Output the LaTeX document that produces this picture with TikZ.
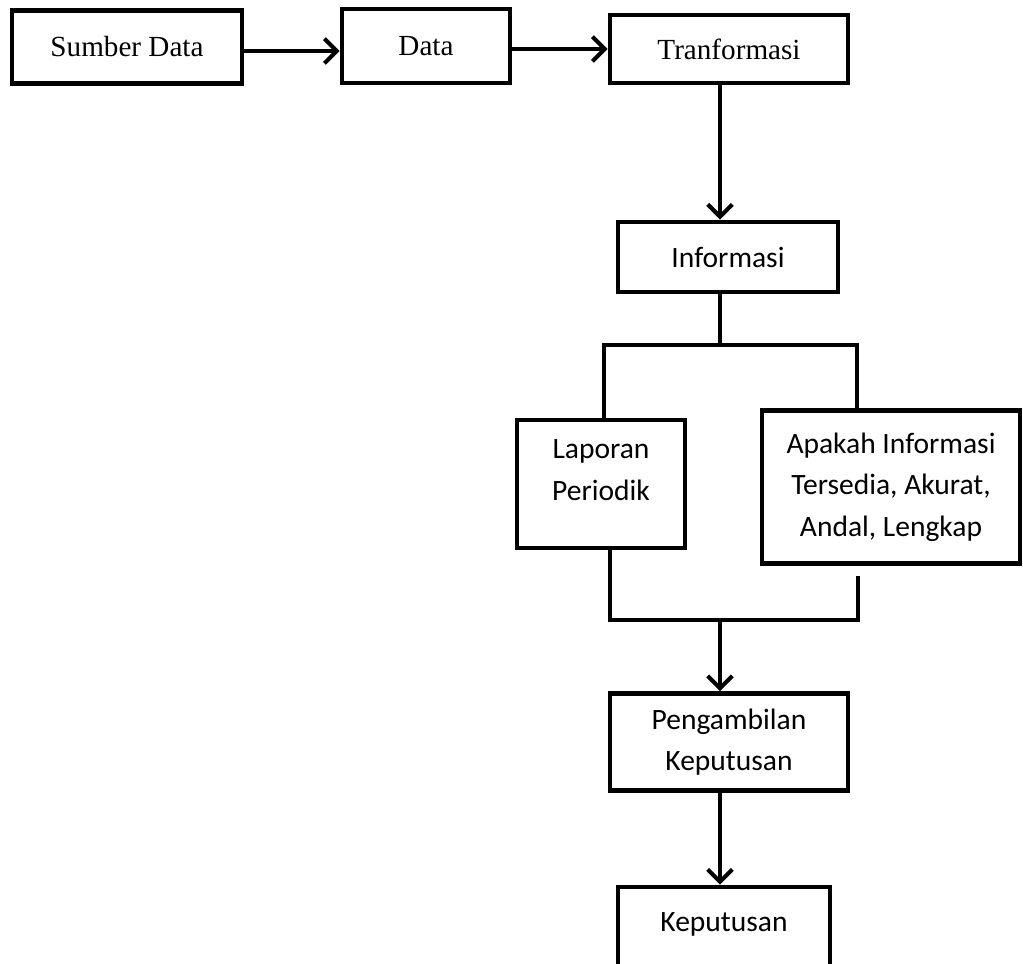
\documentclass[tikz,border=0pt]{standalone}
\usepackage{fontspec}
\setmainfont{Liberation Serif}
\newfontfamily\calibri{Carlito}
\usepackage{tikz}
\usetikzlibrary{arrows.meta,calc,positioning}

\begin{document}
\begin{tikzpicture}[x=0.02cm,y=-0.02cm,
  box/.style={rectangle,draw,line width=2.6pt,align=center,inner sep=0pt},
  serifbox/.style={box,font=\fontsize{16.6}{20}\selectfont},
  sansbox/.style={box,font=\calibri\fontsize{16.8}{23.6}\selectfont},
  link/.style={line width=2.4pt},
  arrow/.style={link,-{Straight Barb[length=7pt,width=14pt]}}]

\useasboundingbox (0,0) rectangle (1023,963);
\clip (0,0) rectangle (1023,963);

\node[serifbox,minimum width=230*0.02cm,minimum height=73*0.02cm] (sumber) at (127,47) {Sumber Data};
\node[serifbox,minimum width=168*0.02cm,minimum height=74*0.02cm] (data) at (426,46) {Data};
\node[serifbox,minimum width=238*0.02cm,minimum height=68*0.02cm] (trans) at (729,49) {Tranformasi};
\node[sansbox,minimum width=220*0.02cm,minimum height=70*0.02cm] (info) at (728,257) {Informasi};
\node[sansbox,minimum width=168*0.02cm,minimum height=128*0.02cm,text depth=16pt] (laporan) at (601,484) {Laporan\\Periodik};
\node[sansbox,minimum width=258*0.02cm,minimum height=153*0.02cm] (cek) at (891,487) {Apakah Informasi\\Tersedia, Akurat,\\Andal, Lengkap};
\node[sansbox,minimum width=238*0.02cm,minimum height=97*0.02cm] (ambil) at (729,742) {Pengambilan\\Keputusan};
\node[sansbox,minimum width=212*0.02cm,minimum height=90*0.02cm,text depth=11pt] (kep) at (724,932) {Keputusan};

% branch and join points
\coordinate (spine) at (720,0);
\coordinate (forkL) at (604,345);
\coordinate (forkR) at (857,345);
\coordinate (joinL) at (610,620);
\coordinate (joinR) at (858,620);

\draw[arrow] ([yshift=-4*0.02cm]sumber.east) -- ([yshift=-4*0.02cm]sumber.east -| data.west);
\draw[arrow] ([yshift=-3*0.02cm]data.east) -- ([yshift=-3*0.02cm]data.east -| trans.west);
\draw[arrow] (trans.south -| spine) -- (info.north -| spine);

\draw[link] (info.south -| spine) -- (forkL -| spine);
\draw[link] (laporan.north -| forkL) -- (forkL) -- (forkR) -- (cek.north -| forkR);
\draw[link] (laporan.south -| joinL) -- (joinL) -- (joinR) -- ([yshift=-10*0.02cm]cek.south -| joinR);

\draw[arrow] (joinL -| spine) -- (ambil.north -| spine);
\draw[arrow] (ambil.south -| spine) -- (kep.north -| spine);
\end{tikzpicture}
\end{document}
